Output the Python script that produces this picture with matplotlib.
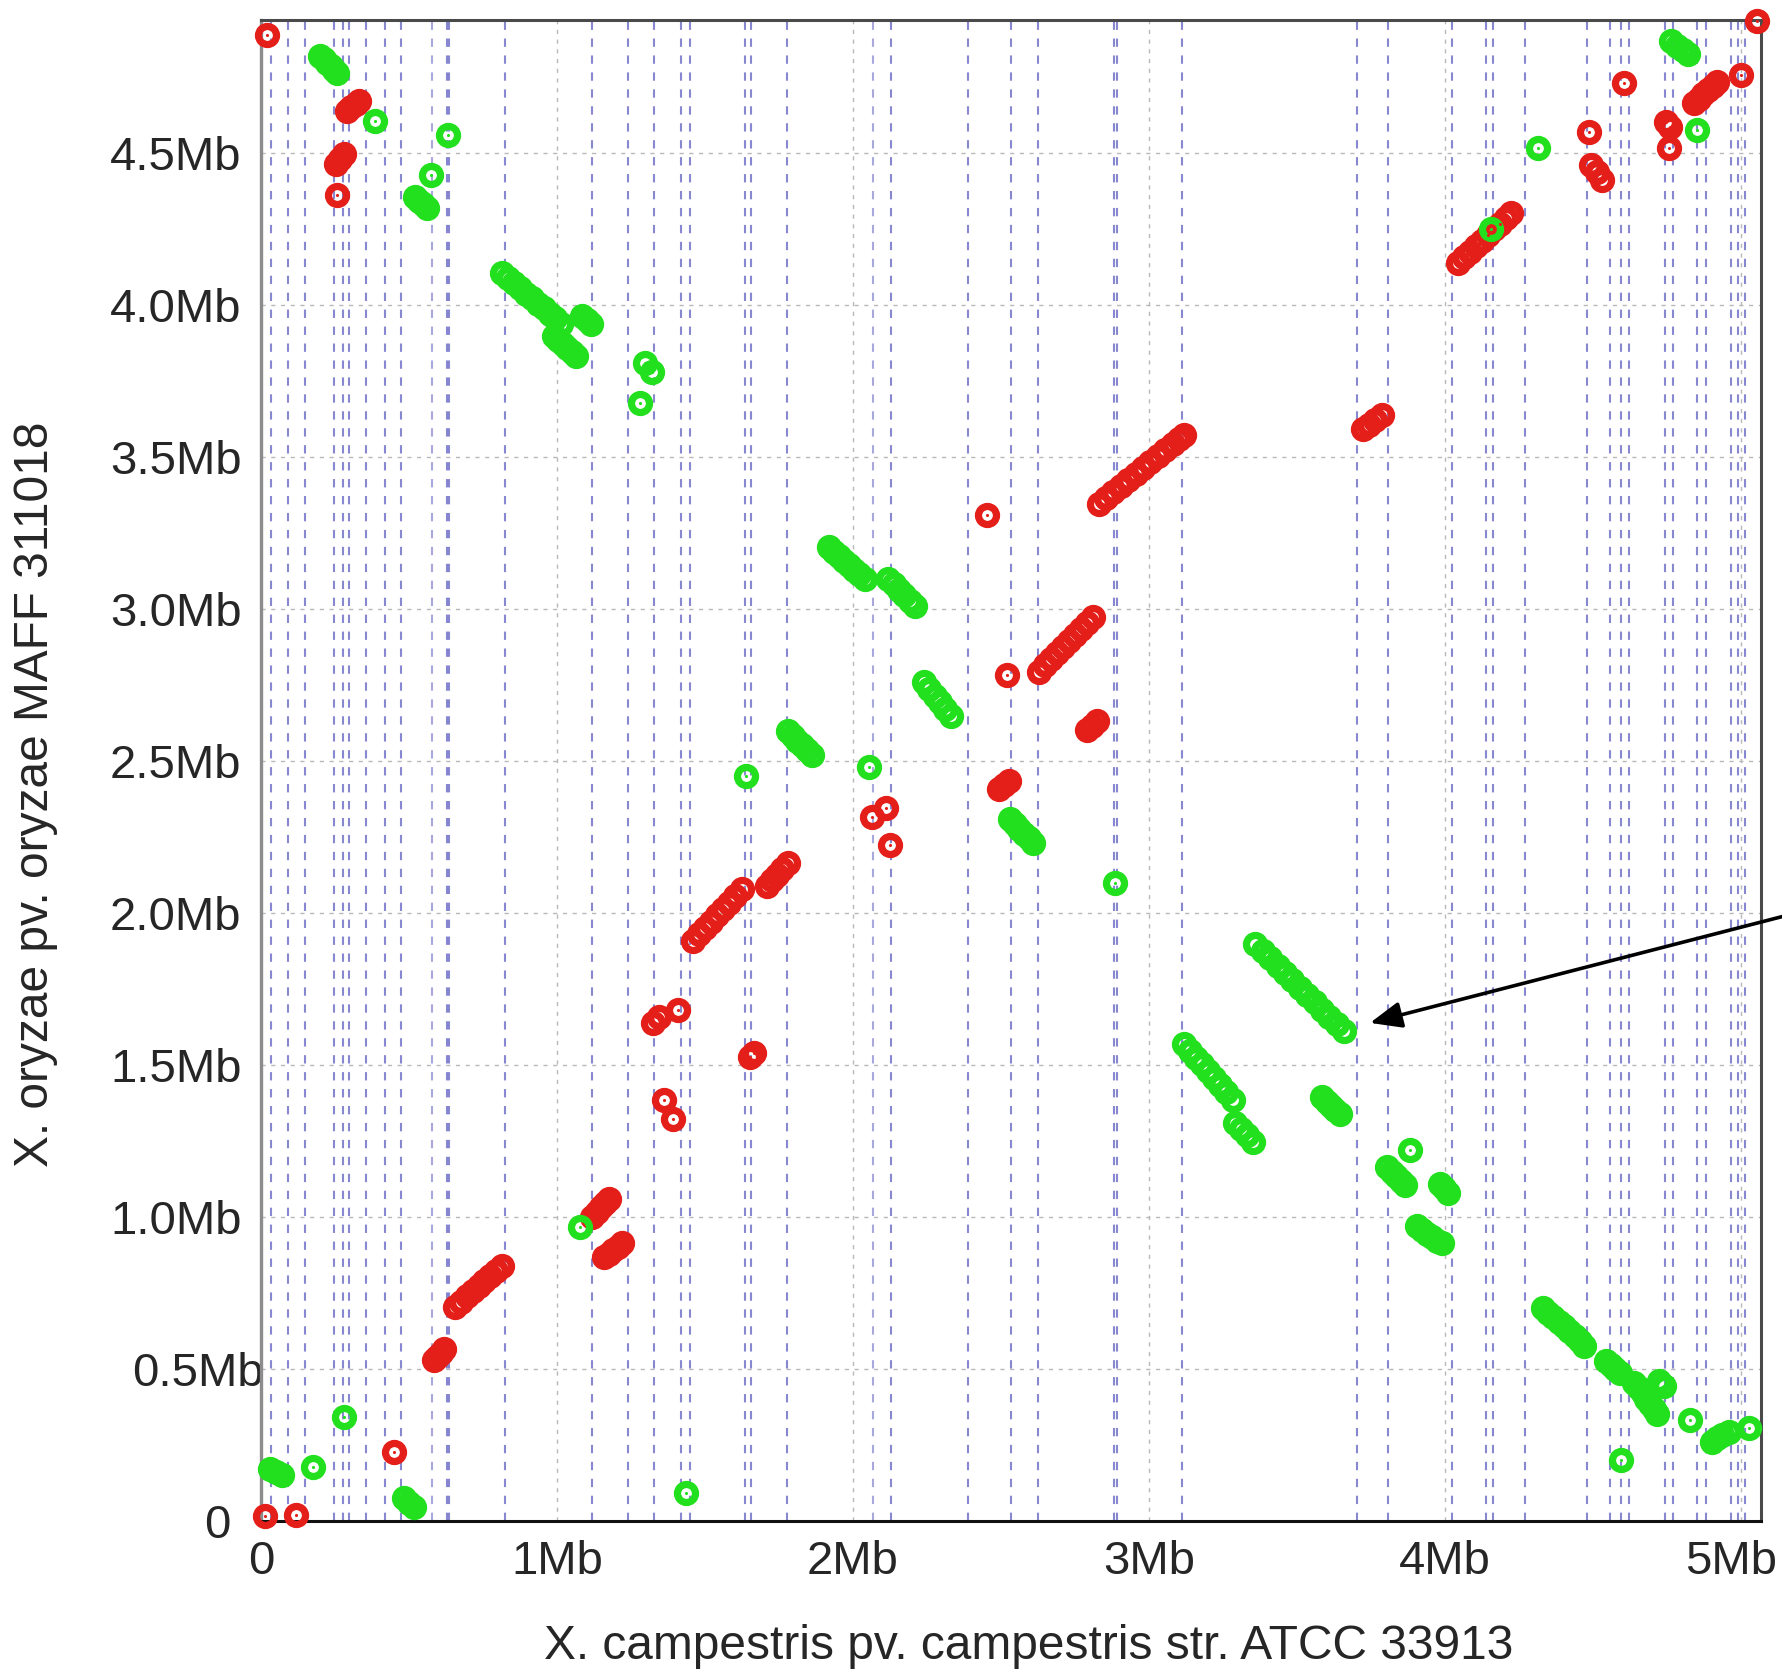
import matplotlib
matplotlib.use("Agg")
from matplotlib import pyplot
import matplotlib.transforms as mtransforms
import numpy as np

# positions in Mb (x: ATCC 33913, y: MAFF 311018)
red_x = [
    0.020,
    0.290, 0.305, 0.320, 0.332,
    0.255, 0.268, 0.280,
    0.256,
    0.012, 0.118, 0.451,
    0.585, 0.596, 0.607, 0.617,
    0.655, 0.675, 0.695, 0.715, 0.735, 0.755, 0.775, 0.795, 0.815,
    1.120, 1.135, 1.150, 1.163, 1.175,
    1.160, 1.175, 1.190, 1.205, 1.220,
    1.325, 1.345, 1.410,
    1.360, 1.392,
    1.652, 1.665,
    1.460, 1.480, 1.500, 1.520, 1.540, 1.560, 1.580, 1.600, 1.625,
    1.710, 1.727, 1.744, 1.761, 1.780,
    2.066, 2.110, 2.124,
    2.453,
    2.495, 2.510, 2.528,
    2.520,
    2.630, 2.650, 2.670, 2.690, 2.710, 2.730, 2.750, 2.770, 2.790, 2.810,
    2.790, 2.808, 2.826,
    2.830, 2.855, 2.880, 2.905, 2.930, 2.955, 2.980, 3.005, 3.030, 3.055, 3.080, 3.100, 3.120,
    3.722, 3.742, 3.765, 3.788,
    4.045, 4.065, 4.085, 4.105, 4.125, 4.145, 4.165, 4.185, 4.205, 4.225,
    4.486, 4.494, 4.515, 4.532,
    4.604,
    4.748, 4.762, 4.758,
    4.840, 4.857, 4.873, 4.889, 4.905, 4.920,
    5.002,
    5.055,
]
red_y = [
    4.889,
    4.640, 4.652, 4.663, 4.672,
    4.465, 4.482, 4.498,
    4.363,
    0.015, 0.020, 0.228,
    0.530, 0.541, 0.553, 0.565,
    0.705, 0.722, 0.739, 0.756, 0.773, 0.789, 0.806, 0.823, 0.840,
    1.000, 1.016, 1.032, 1.047, 1.060,
    0.868, 0.880, 0.892, 0.903, 0.915,
    1.640, 1.660, 1.680,
    1.385, 1.322,
    1.528, 1.540,
    1.910, 1.930, 1.951, 1.972, 1.993, 2.014, 2.035, 2.055, 2.080,
    2.090, 2.108, 2.127, 2.146, 2.165,
    2.318, 2.346, 2.225,
    3.309,
    2.410, 2.422, 2.435,
    2.784,
    2.795, 2.815, 2.835, 2.855, 2.875, 2.895, 2.915, 2.935, 2.955, 2.975,
    2.602, 2.616, 2.632,
    3.345, 3.365, 3.385, 3.404, 3.424, 3.444, 3.464, 3.484, 3.503, 3.523, 3.543, 3.559, 3.575,
    3.592, 3.606, 3.622, 3.638,
    4.140, 4.158, 4.177, 4.195, 4.213, 4.232, 4.250, 4.268, 4.287, 4.305,
    4.572, 4.462, 4.438, 4.412,
    4.731,
    4.604, 4.588, 4.517,
    4.665, 4.680, 4.694, 4.708, 4.722, 4.735,
    4.757,
    4.935,
]

green_x = [
    0.200, 0.212, 0.224, 0.236, 0.248, 0.258,
    0.386,
    0.632,
    0.573,
    0.522, 0.535, 0.548, 0.562,
    0.815, 0.835, 0.855, 0.875, 0.895, 0.915, 0.935, 0.955, 0.975, 0.995, 1.015,
    0.990, 1.005, 1.020, 1.035, 1.050, 1.065,
    1.085, 1.100, 1.115,
    1.297, 1.320, 1.281,
    1.920, 1.937, 1.954, 1.971, 1.988, 2.005, 2.022, 2.040,
    2.120, 2.138, 2.156, 2.174, 2.192, 2.210,
    2.240, 2.258, 2.276, 2.294, 2.312, 2.330,
    1.780, 1.796, 1.812, 1.828, 1.844, 1.860,
    1.639,
    2.054,
    2.530, 2.546, 2.562, 2.578, 2.594, 2.610,
    2.887,
    3.120, 3.140, 3.160, 3.180, 3.200, 3.220, 3.240, 3.260, 3.285,
    3.290, 3.310, 3.330, 3.350,
    3.360, 3.385, 3.410, 3.435, 3.460, 3.485, 3.510, 3.535, 3.560, 3.585, 3.610, 3.635, 3.660,
    3.585, 3.600, 3.615, 3.630, 3.645,
    3.882,
    3.805, 3.820, 3.835, 3.850, 3.865,
    3.985, 3.998, 4.010,
    3.905, 3.922, 3.940, 3.958, 3.975, 3.990,
    4.330, 4.348, 4.366, 4.384, 4.402, 4.420, 4.438, 4.455, 4.470,
    4.545, 4.560, 4.575, 4.590,
    4.640, 4.655, 4.668, 4.680, 4.692, 4.705, 4.718, 4.725, 4.740,
    4.828,
    4.903, 4.920, 4.936, 4.961, 5.027,
    4.596,
    4.765, 4.785, 4.805, 4.820,
    4.314,
    4.853,
    4.156,
    0.030, 0.050, 0.070,
    0.175,
    0.281,
    0.484, 0.500, 0.517,
    1.436,
    1.078,
]
green_y = [
    4.822, 4.810, 4.798, 4.787, 4.775, 4.765,
    4.607,
    4.562,
    4.429,
    4.358, 4.345, 4.334, 4.322,
    4.105, 4.089, 4.072, 4.056, 4.039, 4.023, 4.006, 3.990, 3.973, 3.957, 3.940,
    3.900, 3.887, 3.874, 3.861, 3.848, 3.835,
    3.965, 3.952, 3.938,
    3.810, 3.780, 3.678,
    3.205, 3.190, 3.175, 3.160, 3.145, 3.130, 3.115, 3.100,
    3.100, 3.082, 3.064, 3.046, 3.028, 3.010,
    2.760, 2.738, 2.716, 2.694, 2.672, 2.650,
    2.600, 2.584, 2.568, 2.552, 2.536, 2.520,
    2.453,
    2.482,
    2.310, 2.294, 2.278, 2.262, 2.246, 2.230,
    2.098,
    1.570, 1.548, 1.525, 1.503, 1.480, 1.458, 1.435, 1.413, 1.385,
    1.310, 1.290, 1.270, 1.248,
    1.900, 1.876, 1.851, 1.827, 1.803, 1.779, 1.755, 1.731, 1.707, 1.683, 1.658, 1.634, 1.612,
    1.395, 1.380, 1.366, 1.352, 1.338,
    1.221,
    1.165, 1.150, 1.135, 1.120, 1.105,
    1.110, 1.095, 1.080,
    0.970, 0.958, 0.946, 0.934, 0.922, 0.915,
    0.700, 0.686, 0.671, 0.656, 0.641, 0.626, 0.610, 0.593, 0.576,
    0.527, 0.513, 0.500, 0.487,
    0.455, 0.438, 0.420, 0.402, 0.385, 0.368, 0.352, 0.460, 0.445,
    0.332,
    0.261, 0.272, 0.283, 0.294, 0.305,
    0.201,
    4.870, 4.855, 4.840, 4.828,
    4.517,
    4.577,
    4.250,
    0.170, 0.160, 0.152,
    0.179,
    0.343,
    0.075, 0.060, 0.045,
    0.091,
    0.968,
]

# contig boundaries (blue dashed verticals)
contig_breaks = [0.033, 0.090, 0.147, 0.245, 0.277, 0.299, 0.354, 0.419, 0.473,
                 0.628, 0.636, 0.824, 1.118, 1.240, 1.327, 1.419, 1.449, 1.634,
                 1.655, 1.777, 2.127, 2.390, 2.533, 2.625, 2.883, 2.891, 3.111,
                 3.703, 3.808, 4.024, 4.139, 4.161, 4.272, 4.480, 4.558, 4.596,
                 4.621, 4.745, 4.770, 4.853, 4.883, 4.965, 4.990, 5.015]
faint_breaks = [0.577, 2.067]

x_ticks = [0, 1, 2, 3, 4, 5]
x_labels = ["0", "1Mb", "2Mb", "3Mb", "4Mb", "5Mb"]
y_ticks = [0, 0.5, 1.0, 1.5, 2.0, 2.5, 3.0, 3.5, 4.0, 4.5]
y_labels = ["0", "0.5Mb", "1.0Mb", "1.5Mb", "2.0Mb", "2.5Mb", "3.0Mb", "3.5Mb", "4.0Mb", "4.5Mb"]

RED = "#e41f1a"
GREEN = "#22e01e"
TEXT = "#262626"

pyplot.rcParams['font.family'] = ['Liberation Sans', 'DejaVu Sans']
pyplot.rcParams['lines.scale_dashes'] = False

fig = pyplot.figure(figsize=(17.83, 16.76), dpi=100)
ax = fig.add_axes([261/1783, 155/1676, 1500/1783, 1501/1676])
ax.set_xlim(0, 5.068)
ax.set_ylim(0, 4.939)

# light dotted grid at the major ticks
for x in x_ticks[1:]:
    ax.axvline(x, color="#b8b8b8", lw=1.0, ls=(0, (3, 4)), zorder=0.5)
for y in y_ticks[1:]:
    ax.axhline(y, color="#b8b8b8", lw=1.0, ls=(0, (3, 4)), zorder=0.5)

# contig boundaries
for x in contig_breaks:
    ax.axvline(x, color="#6a6ac6", lw=1.5, ls=(0, (6, 6.2)), alpha=0.8, zorder=1)
for x in faint_breaks:
    ax.axvline(x, color="#a8a8dc", lw=1.5, ls=(0, (6, 6.2)), zorder=1)

def dots(xs, ys, color):
    # thick ring with a small dot in the middle
    ax.plot(xs, ys, "o", ms=13, mfc="none", mec=color, mew=5.2,
            clip_on=False, zorder=3)
    ax.plot(xs, ys, ".", ms=2.5, color=color, clip_on=False, zorder=3.1)

dots(red_x, red_y, RED)
dots(green_x, green_y, GREEN)

ax.set_xticks(x_ticks, x_labels)
ax.set_yticks(y_ticks, y_labels)
ax.tick_params(length=0, labelsize=34, colors=TEXT)
ax.tick_params(axis="x", pad=14)
ax.tick_params(axis="y", pad=14)

# a few tick labels sit off their usual place in the original
def nudge(label, dx):
    label.set_transform(label.get_transform() +
                        mtransforms.ScaledTranslation(dx, 0, fig.dpi_scale_trans))

ylbls = ax.get_yticklabels()
nudge(ylbls[1], 0.22)
nudge(ylbls[0], -0.11)
xlbls = ax.get_xticklabels()
nudge(xlbls[5], -0.10)

for side in ["top", "right"]:
    ax.spines[side].set_color("#4a4a4a")
    ax.spines[side].set_linewidth(2.2)
ax.spines["left"].set_color("#8c8c8c")
ax.spines["left"].set_linewidth(2.4)
ax.spines["bottom"].set_color("#111111")
ax.spines["bottom"].set_linewidth(2.2)

fig.text(1029/1783, 1 - 1646/1676, "X. campestris pv. campestris str. ATCC 33913",
         ha="center", va="center", fontsize=34.5, color=TEXT)
fig.text(36/1783, 1 - 794/1676, "X. oryzae pv. oryzae MAFF 311018",
         ha="center", va="center", rotation=90, fontsize=34.5, color=TEXT)

# arrow pointing at the inverted block
ax.annotate("", xy=(3.747, 1.639), xycoords="data",
            xytext=(1.003, 1 - 915/1676), textcoords="figure fraction",
            arrowprops=dict(arrowstyle="-|>,head_length=0.6,head_width=0.25",
                            mutation_scale=32, lw=2.6, color="black",
                            shrinkA=0, shrinkB=0),
            annotation_clip=False, zorder=5)

fig.savefig("out.png", dpi=100)
